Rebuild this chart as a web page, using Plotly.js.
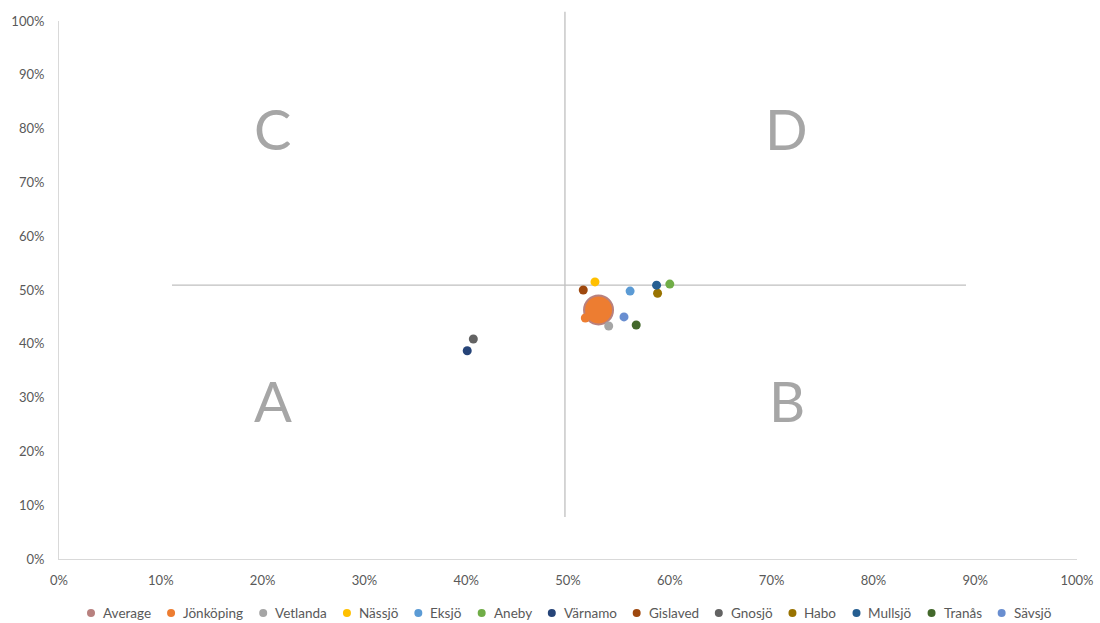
<!DOCTYPE html>
<html>
<head>
<meta charset="utf-8">
<script src="https://cdn.plot.ly/plotly-3.0.1.min.js"></script>
<style>html,body{margin:0;padding:0;background:#fff;}#chart{width:1100px;height:623px;}</style>
</head>
<body>
<div id="chart"></div>
<script>
// Series names, colours and values (x %, y %)
const names   = ["Average","Jönköping","Vetlanda","Nässjö","Eksjö","Aneby","Värnamo","Gislaved","Gnosjö","Habo","Mullsjö","Tranås","Sävsjö"];
const colors  = ["#B8817F","#ED7D31","#A5A5A5","#FFC000","#5B9BD5","#70AD47","#264478","#9E480E","#636363","#997300","#255E91","#43682B","#698ED0"];
const xValues = [53.0, 51.7, 54.0, 52.65, 56.1, 60.0, 40.1, 51.5, 40.7, 58.8, 58.7, 56.7, 55.5];
const yValues = [46.3, 44.8, 43.3, 51.5, 49.8, 51.1, 38.7, 50.0, 40.9, 49.4, 50.9, 43.5, 45.0];

// Quadrant divider lines
const hLineX = [11.1, 89.1];
const hLineY = 50.9;
const vLineX = 49.7;
const vLineY = [7.8, 101.7];

// Quadrant labels
const quadLabels = ["C","D","A","B"];
const quadX = [21, 71.5, 21, 71.5];
const quadY = [80, 80, 29.5, 29.5];

const tickVals = [0,10,20,30,40,50,60,70,80,90,100];
const tickText = tickVals.map(v => v + "%");
const axisRange = [0, 100];

const font = "Lato, 'Open Sans', sans-serif";
const W = 1100, H = 623;
const M = {l: 59, r: 23, t: 21, b: 64};
const plotW = W - M.l - M.r, plotH = H - M.t - M.b;

const traces = [];
// Average bubble
traces.push({
  type: "scatter", mode: "markers", name: names[0], showlegend: false,
  x: [xValues[0]], y: [yValues[0]],
  marker: {color: colors[1], size: 29, line: {color: colors[0], width: 2}}
});
for (let i = 1; i < names.length; i++) {
  traces.push({
    type: "scatter", mode: "markers", name: names[i], showlegend: false,
    x: [xValues[i]], y: [yValues[i]],
    marker: {color: colors[i], size: 9}
  });
}

const annotations = quadLabels.map((t, i) => ({
  text: t, x: quadX[i], y: quadY[i], xref: "x", yref: "y",
  showarrow: false, font: {family: font, size: 56, color: "#A6A6A6"}
}));

const shapes = [
  {type: "line", xref: "x", yref: "y", x0: hLineX[0], x1: hLineX[1], y0: hLineY, y1: hLineY,
   line: {color: "#BFBFBF", width: 1.3}, layer: "below"},
  {type: "line", xref: "x", yref: "paper", x0: vLineX, x1: vLineX,
   y0: (vLineY[0] - axisRange[0]) / (axisRange[1] - axisRange[0]),
   y1: (vLineY[1] - axisRange[0]) / (axisRange[1] - axisRange[0]),
   line: {color: "#BFBFBF", width: 1.3}, layer: "below"}
];

// Legend row (single line, Excel-like spacing), built from names/colors
const legendFontSize = 13.5;
const ctx = document.createElement("canvas").getContext("2d");
ctx.font = legendFontSize + "px Lato";
const dotR = 4, dotGap = 6, itemGap = 18;
const widths = names.map(n => ctx.measureText(n).width);
const total = widths.reduce((s, w) => s + 2 * dotR + dotGap + w, 0) + itemGap * (names.length - 1);
let cx = M.l + (plotW - total) / 2;
const legendYpx = 613;
const legendY = (H - M.b - legendYpx) / plotH;
names.forEach((n, i) => {
  const dotX = (cx + dotR - M.l) / plotW;
  shapes.push({type: "circle", xref: "paper", yref: "paper", xsizemode: "pixel", ysizemode: "pixel",
    xanchor: dotX, yanchor: legendY, x0: -dotR, x1: dotR, y0: -dotR, y1: dotR,
    fillcolor: colors[i], line: {width: 0}});
  annotations.push({text: n, xref: "paper", yref: "paper", x: (cx + 2 * dotR + dotGap - M.l) / plotW,
    y: legendY, xanchor: "left", yanchor: "middle", showarrow: false,
    font: {family: font, size: legendFontSize, color: "#595959"}});
  cx += 2 * dotR + dotGap + widths[i] + itemGap;
});

const layout = {
  width: W, height: H,
  margin: {l: M.l, r: M.r, t: M.t, b: M.b, autoexpand: false},
  paper_bgcolor: "#fff", plot_bgcolor: "#fff",
  font: {family: font, size: 12, color: "#595959"},
  showlegend: false,
  xaxis: {range: axisRange, tickvals: tickVals, ticktext: tickText, showgrid: false, zeroline: false,
          showline: true, linecolor: "#D9D9D9", linewidth: 1, ticks: "", fixedrange: true,
          ticklabelstandoff: 9,
          tickfont: {family: font, size: 13, color: "#595959"}},
  yaxis: {range: axisRange, tickvals: tickVals, ticktext: tickText, showgrid: false, zeroline: false,
          showline: true, linecolor: "#D9D9D9", linewidth: 1, ticks: "", fixedrange: true,
          ticklabelstandoff: 11,
          tickfont: {family: font, size: 13, color: "#595959"}},
  annotations: annotations,
  shapes: shapes
};

Plotly.newPlot("chart", traces, layout, {displayModeBar: false, staticPlot: true});
</script>
</body>
</html>
